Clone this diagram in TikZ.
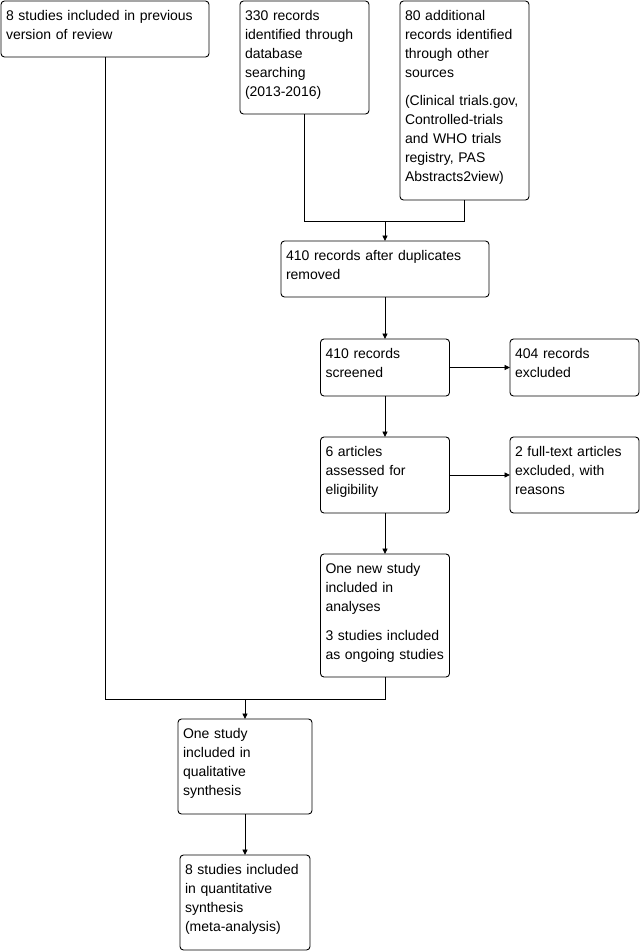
\documentclass[tikz,border=0pt]{standalone}
\usepackage{fontspec}
\setmainfont{Liberation Sans}
\usetikzlibrary{calc,arrows.meta}
\tikzset{
  box/.style={draw=black, line width=0.9pt, rounded corners=3.5pt, inner sep=0pt, outer sep=0pt, fill=white},
  txt/.style={anchor=base west, inner sep=0pt, outer sep=0pt, text width=220pt, align=left,
              font=\fontsize{14}{19}\selectfont},
  line/.style={draw=black, line width=0.9pt},
  arr/.style={line, -{Triangle[length=5.5pt,width=5pt]}}
}
\newcommand{\pskip}{\\[9.5pt]}
\begin{document}
\begin{tikzpicture}[x=1pt,y=-1pt]
\useasboundingbox (0,0) rectangle (642,951);
\fill[white] (0,0) rectangle (642,951);
% boxes: (left,top,right,bottom)
\node[box, minimum width=208pt, minimum height=56pt]  (b1)  at (105,29) {};
\node[box, minimum width=129pt, minimum height=113pt] (b2)  at (304.5,57.5) {};
\node[box, minimum width=129pt, minimum height=199pt] (b3)  at (464.5,100.5) {};
\node[box, minimum width=208pt, minimum height=56pt]  (b4)  at (385,269) {};
\node[box, minimum width=129pt, minimum height=57pt]  (b5)  at (385,367.5) {};
\node[box, minimum width=129pt, minimum height=57pt]  (b6)  at (574.5,367.5) {};
\node[box, minimum width=129pt, minimum height=76pt]  (b7)  at (385,475) {};
\node[box, minimum width=129pt, minimum height=76pt]  (b8)  at (574.5,475) {};
\node[box, minimum width=129pt, minimum height=123pt] (b9)  at (385,615.5) {};
\node[box, minimum width=134pt, minimum height=95pt]  (b10) at (245,766.5) {};
\node[box, minimum width=130pt, minimum height=95pt]  (b11) at (245,902.5) {};
% texts
\node[txt] (t1)  at ($(b1.north west)+(5,19)$)  {8 studies included in previous\\version of review};
\node[txt] (t2)  at ($(b2.north west)+(5,19)$)  {330 records\\identified through\\database\\searching\\(2013-2016)};
\node[txt] (t3)  at ($(b3.north west)+(5,19)$)  {80 additional\\records identified\\through other\\sources\pskip(Clinical trials.gov,\\Controlled-trials\\and WHO trials\\registry, PAS\\Abstracts2view)};
\node[txt] (t4)  at ($(b4.north west)+(5,19)$)  {410 records after duplicates\\removed};
\node[txt] (t5)  at ($(b5.north west)+(5,19)$)  {410 records\\screened};
\node[txt] (t6)  at ($(b6.north west)+(5,19)$)  {404 records\\excluded};
\node[txt] (t7)  at ($(b7.north west)+(5,19)$)  {6 articles\\assessed for\\eligibility};
\node[txt] (t8)  at ($(b8.north west)+(5,19)$)  {2 full-text articles\\excluded, with\\reasons};
\node[txt] (t9)  at ($(b9.north west)+(5,19.5)$)  {One new study\\included in\\analyses\pskip 3 studies included\\as ongoing studies};
\node[txt] (t10) at ($(b10.north west)+(5,19)$) {One study\\included in\\qualitative\\synthesis};
\node[txt] (t11) at ($(b11.north west)+(5,19)$) {8 studies included\\in quantitative\\synthesis\\(meta-analysis)};
% junctions
\coordinate (j1) at (385,221);
\coordinate (j2) at (245,699);
% connectors
\draw[line] (b2.south) -- (b2.south |- j1) -| (b3.south);
\draw[arr] (j1) -- (b4.north);
\draw[arr] (b4.south) -- (b5.north);
\draw[arr] (b5.east) -- (b6.west);
\draw[arr] (b5.south) -- (b7.north);
\draw[arr] (b7.east) -- (b8.west);
\draw[arr] (b7.south) -- (b9.north);
\draw[line] (b9.south) -- (b9.south |- j2) -| (b1.south);
\draw[arr] (j2) -- (b10.north);
\draw[arr] (b10.south) -- (b11.north);
\end{tikzpicture}
\end{document}
